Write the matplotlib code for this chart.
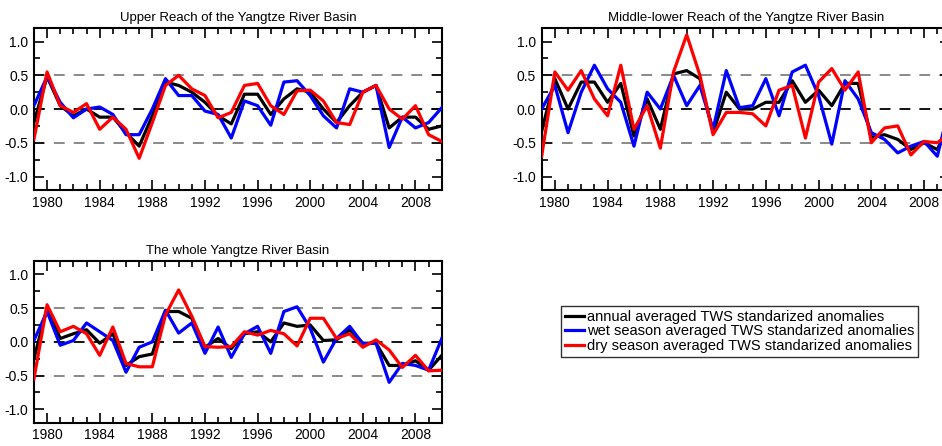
import numpy as np
import matplotlib
matplotlib.use('Agg')
import matplotlib.pyplot as plt
from matplotlib.ticker import MultipleLocator

plt.rcParams['font.family'] = ['Liberation Sans', 'DejaVu Sans']

years = list(range(1979, 2011))

# upper reach
upper_annual = [-0.20, 0.48, 0.05, -0.10, 0.00, -0.12, -0.12, -0.35, -0.55, -0.10, 0.40, 0.35,
                0.25, 0.10, -0.10, -0.22, 0.22, 0.22, -0.08, 0.15, 0.30, 0.25, 0.00, -0.20,
                0.05, 0.25, 0.35, -0.28, -0.12, -0.12, -0.30, -0.25]
upper_wet = [0.05, 0.48, 0.10, -0.13, 0.00, 0.03, -0.08, -0.38, -0.38, 0.00, 0.45, 0.20,
             0.20, -0.03, -0.08, -0.43, 0.12, 0.05, -0.24, 0.40, 0.42, 0.20, -0.10, -0.28,
             0.30, 0.25, 0.35, -0.57, -0.12, -0.28, -0.20, 0.02]
upper_dry = [-0.45, 0.55, 0.05, -0.05, 0.08, -0.30, -0.12, -0.30, -0.73, -0.20, 0.35, 0.50,
             0.30, 0.20, -0.13, -0.05, 0.35, 0.38, 0.05, -0.08, 0.27, 0.28, 0.12, -0.20,
             -0.23, 0.25, 0.35, 0.00, -0.15, 0.05, -0.38, -0.48]

# middle-lower reach
mid_annual = [-0.33, 0.45, 0.00, 0.40, 0.40, 0.10, 0.38, -0.40, 0.15, -0.30, 0.52, 0.57,
              0.45, -0.35, 0.25, 0.00, 0.00, 0.10, 0.10, 0.42, 0.10, 0.28, 0.05, 0.38,
              0.38, -0.42, -0.38, -0.45, -0.60, -0.50, -0.60, -0.20]
mid_wet = [0.00, 0.35, -0.35, 0.25, 0.65, 0.30, 0.10, -0.55, 0.25, 0.00, 0.50, 0.05,
           0.35, -0.30, 0.57, 0.02, 0.05, 0.45, -0.10, 0.55, 0.65, 0.20, -0.52, 0.42,
           0.15, -0.35, -0.45, -0.65, -0.55, -0.48, -0.70, 0.10]
mid_dry = [-0.70, 0.55, 0.28, 0.57, 0.15, -0.10, 0.65, -0.30, 0.05, -0.58, 0.55, 1.10,
           0.50, -0.38, -0.05, -0.05, -0.07, -0.25, 0.28, 0.35, -0.43, 0.40, 0.60, 0.28,
           0.55, -0.50, -0.28, -0.25, -0.68, -0.48, -0.50, -0.35]

# whole basin
whole_annual = [-0.25, 0.50, 0.05, 0.12, 0.18, -0.02, 0.12, -0.35, -0.22, -0.18, 0.45, 0.45,
                0.35, -0.08, 0.05, -0.10, 0.12, 0.15, 0.00, 0.28, 0.23, 0.25, 0.02, 0.03,
                0.18, -0.02, -0.02, -0.35, -0.35, -0.28, -0.42, -0.20]
whole_wet = [0.02, 0.45, -0.05, 0.02, 0.28, 0.15, 0.02, -0.45, -0.08, 0.00, 0.47, 0.13,
             0.28, -0.17, 0.22, -0.23, 0.12, 0.23, -0.17, 0.45, 0.52, 0.20, -0.30, 0.05,
             0.23, -0.03, -0.02, -0.60, -0.32, -0.35, -0.42, 0.05]
whole_dry = [-0.55, 0.55, 0.15, 0.23, 0.12, -0.20, 0.22, -0.32, -0.37, -0.37, 0.40, 0.77,
             0.38, -0.07, -0.08, -0.07, 0.15, 0.10, 0.17, 0.12, -0.06, 0.35, 0.35, 0.05,
             0.12, -0.08, 0.03, -0.12, -0.38, -0.20, -0.43, -0.42]

panels = [
    ('Upper Reach of the Yangtze River Basin', upper_annual, upper_wet, upper_dry, [0.036, 0.574, 0.433, 0.363]),
    ('Middle-lower Reach of the Yangtze River Basin', mid_annual, mid_wet, mid_dry, [0.575, 0.574, 0.434, 0.363]),
    ('The whole Yangtze River Basin', whole_annual, whole_wet, whole_dry, [0.036, 0.052, 0.433, 0.363]),
]

labels = ['annual averaged TWS standarized anomalies',
          'wet season averaged TWS standarized anomalies',
          'dry season averaged TWS standarized anomalies']

fig = plt.figure(figsize=(9.42, 4.46), dpi=100)

for title, ann, wet, dry, pos in panels:
    ax = fig.add_axes(pos)
    ax.axhline(0.5, color='gray', ls=(0, (6, 5)), lw=1.3, zorder=1)
    ax.axhline(-0.5, color='gray', ls=(0, (6, 5)), lw=1.3, zorder=1)
    ax.axhline(0.0, color='black', ls=(0, (6, 5)), lw=1.3, zorder=1)
    l1, = ax.plot(years, ann, color='black', lw=2.3, zorder=2)
    l2, = ax.plot(years, wet, color='#0000ff', lw=2.3, zorder=3)
    l3, = ax.plot(years, dry, color='#ff0000', lw=2.3, zorder=4)
    ax.set_xlim(1979, 2010)
    ax.set_ylim(-1.2, 1.2)
    ax.set_xticks(range(1980, 2010, 4))
    ax.xaxis.set_minor_locator(MultipleLocator(1))
    ax.set_yticks([-1.0, -0.5, 0.0, 0.5, 1.0])
    ax.set_yticklabels(['-1.0', '-0.5', '0.0', '0.5', '1.0'])
    ax.yaxis.set_minor_locator(MultipleLocator(0.25))
    ax.tick_params(which='both', direction='in', top=True, right=True, labelsize=10, width=1.2)
    ax.tick_params(which='major', length=7, pad=4)
    ax.tick_params(which='minor', length=4)
    for s in ax.spines.values():
        s.set_linewidth(1.5)
    ax.set_title(title, fontsize=9.5, pad=5)

fig.legend([l1, l2, l3], labels, loc='upper left', bbox_to_anchor=(561 / 942, 1 - 306 / 446),
           fontsize=10.5, handlelength=1.3, handletextpad=0.2, labelspacing=0.05,
           borderpad=0.25, borderaxespad=0, frameon=True, fancybox=False, edgecolor='black')

fig.savefig('out.png', dpi=100)
